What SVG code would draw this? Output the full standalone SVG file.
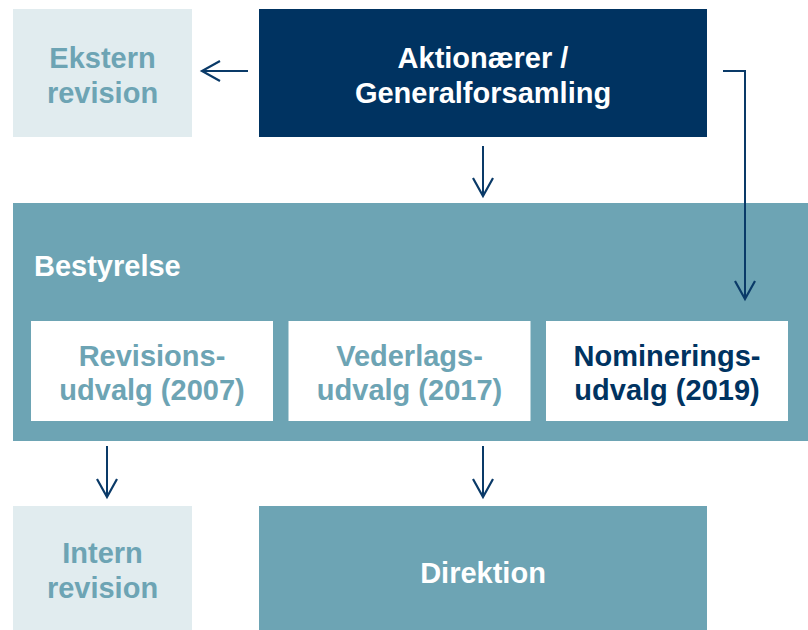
<svg xmlns="http://www.w3.org/2000/svg" width="808" height="630" viewBox="0 0 808 630">
  <defs>
    <style>
      text { font-family: "Liberation Sans", Arial, sans-serif; font-weight: bold; font-size: 29px; text-anchor: middle; }
      .light { fill: #E1ECEF; }
      .teal { fill: #6DA4B4; }
      .navy { fill: #003361; }
      .white { fill: #FFFFFF; }
      .t-teal { fill: #6DA4B4; }
      .t-white { fill: #FFFFFF; }
      .t-navy { fill: #003361; }
      .conn { fill: none; stroke: #0A3A68; stroke-width: 2; marker-end: url(#arrow); }
    </style>
    <marker id="arrow" markerUnits="userSpaceOnUse" markerWidth="24" markerHeight="24" viewBox="-20 -12 24 24" refX="0" refY="0" orient="auto">
      <path d="M-18,-10 L0,0 L-18,10" fill="none" stroke="#0A3A68" stroke-width="2.2"/>
    </marker>
  </defs>

  <g id="ekstern-revision">
    <rect class="light" x="13" y="9" width="179" height="128"/>
    <text class="t-teal" x="102.5" y="67.5">Ekstern</text>
    <text class="t-teal" x="102.5" y="102.5">revision</text>
  </g>

  <g id="aktionaerer">
    <rect class="navy" x="259" y="9" width="448" height="128"/>
    <text class="t-white" x="483" y="67.5">Aktionærer /</text>
    <text class="t-white" x="483" y="102.5">Generalforsamling</text>
  </g>

  <g id="bestyrelse">
    <rect class="teal" x="13" y="203" width="795" height="238"/>
    <text class="t-white" x="34" y="276" style="text-anchor:start">Bestyrelse</text>
  </g>

  <g id="revisionsudvalg">
    <rect class="white" x="31" y="321" width="242" height="100"/>
    <text class="t-teal" x="152" y="366">Revisions-</text>
    <text class="t-teal" x="152" y="400">udvalg (2007)</text>
  </g>

  <g id="vederlagsudvalg">
    <rect class="white" x="288.5" y="321" width="242" height="100"/>
    <text class="t-teal" x="409.5" y="366">Vederlags-</text>
    <text class="t-teal" x="409.5" y="400">udvalg (2017)</text>
  </g>

  <g id="nomineringsudvalg">
    <rect class="white" x="546" y="321" width="242" height="100"/>
    <text class="t-navy" x="667" y="366">Nominerings-</text>
    <text class="t-navy" x="667" y="400">udvalg (2019)</text>
  </g>

  <g id="intern-revision">
    <rect class="light" x="13" y="506" width="179" height="124"/>
    <text class="t-teal" x="102.5" y="563">Intern</text>
    <text class="t-teal" x="102.5" y="598">revision</text>
  </g>

  <g id="direktion">
    <rect class="teal" x="259" y="506" width="448" height="124"/>
    <text class="t-white" x="483" y="582.5">Direktion</text>
  </g>

  <g id="connectors">
    <path class="conn" d="M248,71 L202,71"/>
    <path class="conn" d="M723,71 L745,71 L745,299"/>
    <path class="conn" d="M483,146 L483,196"/>
    <path class="conn" d="M107,446 L107,497"/>
    <path class="conn" d="M483,446 L483,497"/>
  </g>
</svg>
